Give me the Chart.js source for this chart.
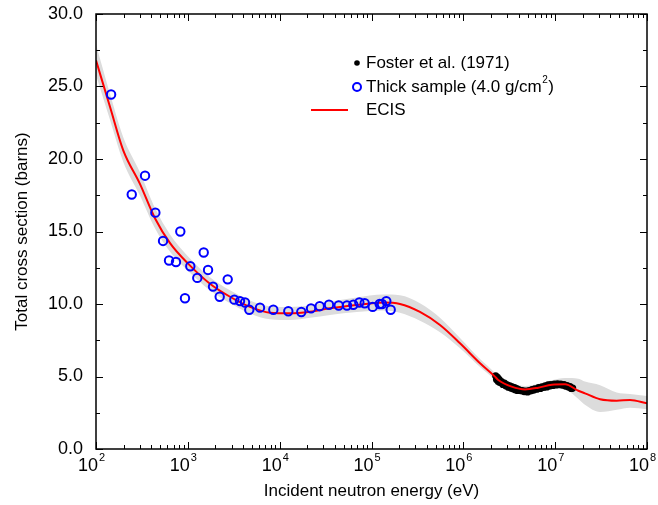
<!DOCTYPE html>
<html>
<head>
<meta charset="utf-8">
<script src="https://cdn.jsdelivr.net/npm/chart.js@4"></script>
<style>
  html, body { margin: 0; padding: 0; background: #fff; }
  #wrap { width: 658px; height: 505px; }
</style>
</head>
<body>
<div id="wrap"><canvas id="xsChart" width="658" height="505"></canvas></div>
<script>
// Foster et al. (1971)
const fosterE = [2.25e6, 2.3e6, 2.35e6, 2.4e6, 2.45e6, 2.5e6, 2.6e6, 2.7e6, 2.8e6, 2.9e6,
  3.0e6, 3.1e6, 3.2e6, 3.3e6, 3.4e6, 3.5e6, 3.6e6, 3.7e6, 3.8e6, 3.9e6,
  4.0e6, 4.2e6, 4.4e6, 4.6e6, 4.8e6, 5.0e6, 5.2e6, 5.4e6, 5.6e6, 5.8e6,
  6.0e6, 6.3e6, 6.6e6, 6.9e6, 7.2e6, 7.5e6, 7.8e6, 8.1e6, 8.4e6, 8.7e6,
  9.0e6, 9.4e6, 9.8e6, 1.02e7, 1.06e7, 1.1e7, 1.15e7, 1.2e7, 1.25e7, 1.3e7,
  1.35e7, 1.4e7, 1.45e7, 1.5e7, 1.55e7];
const fosterSigma = [5.05, 4.8, 4.95, 4.65, 4.8, 4.58, 4.65, 4.45, 4.55, 4.36,
  4.42, 4.26, 4.36, 4.2, 4.28, 4.14, 4.23, 4.07, 4.17, 4.04,
  4.1, 4.03, 4.02, 3.96, 4.0, 3.93, 4.03, 4.0, 4.1, 4.06,
  4.14, 4.12, 4.24, 4.18, 4.28, 4.25, 4.36, 4.28, 4.42, 4.35,
  4.45, 4.38, 4.48, 4.42, 4.5, 4.44, 4.48, 4.4, 4.44, 4.34,
  4.38, 4.27, 4.3, 4.18, 4.2];

// Thick sample (4.0 g/cm2)
const thickE = [146, 245, 342, 443, 537, 624, 743, 828, 931, 1064,
  1268, 1489, 1660, 1880, 2223, 2717, 3208, 3700, 4195, 4670,
  6105, 8530, 12420, 17200, 21950, 27300, 34450, 43940, 54100, 63400,
  73700, 84300, 103000, 122800, 130000, 145000, 161800];
const thickSigma = [24.45, 17.55, 18.85, 16.3, 14.35, 13.0, 12.9, 15.0, 10.4, 12.6,
  11.8, 13.55, 12.35, 11.2, 10.5, 11.7, 10.3, 10.2, 10.1, 9.6,
  9.75, 9.6, 9.5, 9.45, 9.7, 9.85, 9.95, 9.9, 9.9, 9.95,
  10.1, 10.05, 9.8, 10.0, 10.0, 10.2, 9.6];

// ECIS calculation and its uncertainty band
const ecisE = [1e2, 1.42e2, 1.98e2, 3.0e2, 4.4e2, 6.4e2, 1.0e3, 1.74e3, 2.88e3, 4.75e3,
  7.85e3, 1.3e4, 2.14e4, 3.53e4, 6.9e4, 1.34e5, 2.04e5, 3.37e5, 5.57e5, 9.2e5,
  1.52e6, 2.21e6, 2.4e6, 3.36e6, 4.7e6, 6.56e6, 9.2e6, 1.28e7, 1.79e7, 2.11e7,
  3.08e7, 4.68e7, 6.53e7, 1e8];
const ecisSigma = [26.8, 23.6, 20.6, 18.3, 15.9, 14.2, 12.8, 11.4, 10.5, 9.8,
  9.4, 9.36, 9.47, 9.7, 9.93, 10.1, 10.0, 9.45, 8.55, 7.29,
  5.91, 4.99, 4.76, 4.3, 4.11, 4.23, 4.43, 4.46, 4.02, 3.84,
  3.43, 3.33, 3.38, 3.15];
const ecisUpper = [27.9, 24.5, 21.5, 19.1, 16.6, 14.8, 13.3, 11.85, 10.95, 10.25,
  9.85, 9.8, 9.9, 10.15, 10.45, 10.65, 10.6, 10.05, 9.05, 7.65,
  6.2, 5.25, 5.0, 4.55, 4.35, 4.5, 4.75, 4.9, 4.85, 4.65,
  4.4, 3.9, 3.8, 3.65];
const ecisLower = [25.8, 22.7, 19.8, 17.5, 15.2, 13.6, 12.3, 10.95, 10.05, 9.35,
  8.95, 8.9, 9.05, 9.25, 9.45, 9.55, 9.4, 8.85, 8.05, 6.95,
  5.65, 4.75, 4.5, 4.05, 3.85, 3.95, 4.15, 4.1, 3.45, 3.05,
  2.55, 2.7, 2.85, 2.75];

// axis ticks
const xDecades = [2, 3, 4, 5, 6, 7, 8];
const yTickValues = [0, 5, 10, 15, 20, 25, 30];

const FONT = "'Liberation Sans', Arial, Helvetica, sans-serif";

function pts(xs, ys) {
  return xs.map((e, i) => ({ x: e, y: ys[i] }));
}
function isDecade(v) {
  const l = Math.log10(v);
  return Math.abs(l - Math.round(l)) < 1e-9;
}

const frame = {
  id: 'frame',
  afterDraw(chart) {
    const ctx = chart.ctx;
    const a = chart.chartArea;
    const xs = chart.scales.x, ys = chart.scales.y;
    ctx.save();
    ctx.strokeStyle = '#000';
    ctx.lineWidth = 1;
    ctx.beginPath();
    xs.ticks.forEach(t => {
      const px = Math.round(xs.getPixelForValue(t.value)) + 0.5;
      const len = isDecade(t.value) ? 7 : 4;
      ctx.moveTo(px, a.bottom); ctx.lineTo(px, a.bottom - len);
      ctx.moveTo(px, a.top); ctx.lineTo(px, a.top + len);
    });
    ys.ticks.forEach(t => {
      const py = Math.round(ys.getPixelForValue(t.value)) + 0.5;
      const len = t.value % 5 === 0 ? 7 : 4;
      ctx.moveTo(a.left, py); ctx.lineTo(a.left + len, py);
      ctx.moveTo(a.right, py); ctx.lineTo(a.right - len, py);
    });
    ctx.stroke();
    ctx.lineWidth = 1.5;
    ctx.strokeRect(a.left, a.top, a.right - a.left, a.bottom - a.top);

    // x tick labels 10^n
    ctx.fillStyle = '#000';
    ctx.textBaseline = 'alphabetic';
    xDecades.forEach(d => {
      const px = xs.getPixelForValue(Math.pow(10, d));
      ctx.font = '18px ' + FONT;
      ctx.textAlign = 'right';
      ctx.fillText('10', px + 2, 471);
      ctx.font = '11px ' + FONT;
      ctx.textAlign = 'left';
      ctx.fillText(String(d), px + 3, 461);
    });

    // axis titles
    ctx.font = '17px ' + FONT;
    ctx.textAlign = 'center';
    ctx.textBaseline = 'middle';
    ctx.fillText('Incident neutron energy (eV)', (a.left + a.right) / 2, 491);
    ctx.save();
    ctx.translate(22, (a.top + a.bottom) / 2);
    ctx.rotate(-Math.PI / 2);
    ctx.fillText('Total cross section (barns)', 0, 0);
    ctx.restore();

    // legend
    ctx.textAlign = 'left';
    ctx.font = '17px ' + FONT;
    ctx.fillStyle = '#000';
    ctx.beginPath();
    ctx.arc(357, 63, 2.8, 0, Math.PI * 2);
    ctx.fill();
    ctx.fillText('Foster et al. (1971)', 366, 63);

    ctx.strokeStyle = '#0000ff';
    ctx.lineWidth = 2;
    ctx.beginPath();
    ctx.arc(357, 87, 4, 0, Math.PI * 2);
    ctx.stroke();
    const s1 = 'Thick sample (4.0 g/cm';
    ctx.fillText(s1, 366, 87);
    const w1 = ctx.measureText(s1).width;
    ctx.font = '10px ' + FONT;
    ctx.fillText('2', 366 + w1 + 0.5, 80);
    const w2 = ctx.measureText('2').width;
    ctx.font = '17px ' + FONT;
    ctx.fillText(')', 366 + w1 + w2 + 1, 87);

    ctx.strokeStyle = '#ff0000';
    ctx.lineWidth = 2;
    ctx.beginPath();
    ctx.moveTo(311, 110); ctx.lineTo(348, 110);
    ctx.stroke();
    ctx.fillText('ECIS', 366, 110);
    ctx.restore();
  }
};

const ctx = document.getElementById('xsChart').getContext('2d');
new Chart(ctx, {
  type: 'scatter',
  data: {
    datasets: [
      {
        label: 'Thick sample (4.0 g/cm2)',
        data: pts(thickE, thickSigma),
        showLine: false,
        pointStyle: 'circle',
        pointRadius: 4.2,
        borderColor: '#0000ff',
        backgroundColor: 'rgba(0,0,0,0)',
        borderWidth: 2
      },
      {
        label: 'ECIS',
        data: pts(ecisE, ecisSigma),
        showLine: true,
        pointRadius: 0,
        borderColor: '#ff0000',
        borderWidth: 2,
        cubicInterpolationMode: 'monotone'
      },
      {
        label: 'Foster et al. (1971)',
        data: pts(fosterE, fosterSigma),
        showLine: false,
        pointRadius: 3.6,
        borderWidth: 0,
        backgroundColor: '#000',
        borderColor: '#000'
      },
      {
        label: 'band upper',
        data: pts(ecisE, ecisUpper),
        showLine: true,
        pointRadius: 0,
        borderWidth: 0,
        borderColor: 'rgba(0,0,0,0)',
        backgroundColor: '#dcdcdc',
        fill: '+1',
        cubicInterpolationMode: 'monotone'
      },
      {
        label: 'band lower',
        data: pts(ecisE, ecisLower),
        showLine: true,
        pointRadius: 0,
        borderWidth: 0,
        borderColor: 'rgba(0,0,0,0)',
        backgroundColor: '#dcdcdc',
        fill: false,
        cubicInterpolationMode: 'monotone'
      }
    ]
  },
  options: {
    responsive: false,
    animation: false,
    layout: { padding: { top: 14, right: 11, left: 0, bottom: 0 } },
    plugins: {
      legend: { display: false },
      tooltip: { enabled: false }
    },
    scales: {
      x: {
        type: 'logarithmic',
        min: 1e2,
        max: 1e8,
        grid: { display: false },
        border: { display: false },
        ticks: { display: false },
        afterBuildTicks: scale => {
          const t = [];
          for (let d = 2; d < 8; d++) {
            for (let n = 1; n < 10; n++) t.push({ value: n * Math.pow(10, d) });
          }
          t.push({ value: 1e8 });
          scale.ticks = t;
        },
        afterFit: scale => {
          scale.height = 56;
          scale.paddingLeft = 0;
          scale.paddingRight = 0;
        }
      },
      y: {
        min: 0,
        max: 30,
        grid: { display: false, drawTicks: false },
        border: { display: false },
        ticks: {
          stepSize: 2.5,
          autoSkip: false,
          padding: 13,
          color: '#000',
          font: { family: FONT, size: 18 },
          callback: v => yTickValues.includes(v) ? v.toFixed(1) : ''
        },
        afterFit: scale => {
          scale.width = 96;
          scale.paddingTop = 0;
          scale.paddingBottom = 0;
        }
      }
    }
  },
  plugins: [frame]
});
</script>
</body>
</html>
